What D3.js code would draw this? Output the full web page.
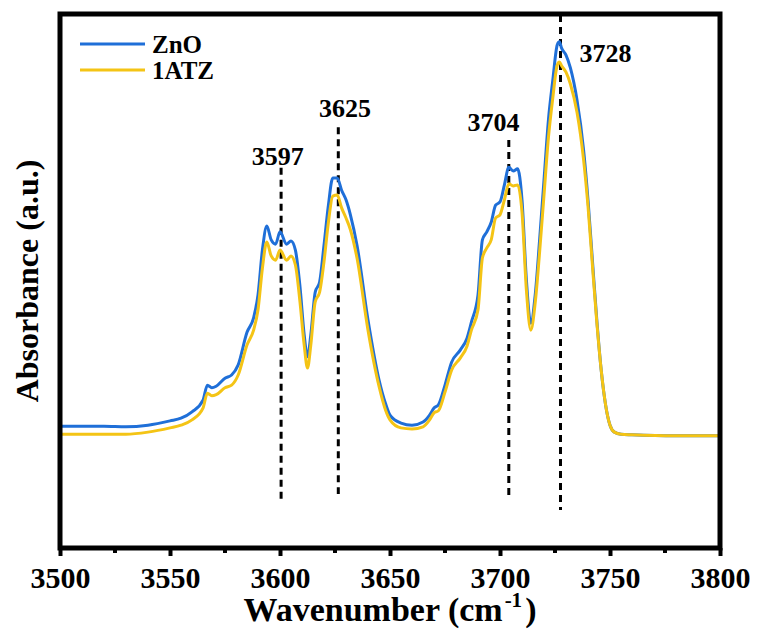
<!DOCTYPE html>
<html>
<head>
<meta charset="utf-8">
<script src="https://cdn.jsdelivr.net/npm/d3@7/dist/d3.min.js"></script>
<style>
  body { margin: 0; background: #fff; }
  svg text { font-family: "Liberation Serif", "Times New Roman", serif; font-weight: bold; fill: #000; }
</style>
</head>
<body>
<svg id="chart" width="758" height="630"></svg>
<script>
// *** Data (absorbance in arbitrary units) ***
var wavenumbers = [3500, 3510, 3520, 3530, 3540, 3550, 3555, 3560, 3565, 3567, 3569, 3571, 3575, 3578, 3581,
    3585, 3588, 3590, 3592, 3594, 3596, 3598, 3600, 3603, 3605, 3607, 3609, 3611, 3612.5, 3614, 3616, 3618,
    3620, 3622, 3624, 3626, 3628, 3630, 3632, 3635, 3640, 3645, 3648, 3650, 3655, 3660, 3665, 3668, 3670,
    3672, 3675, 3678, 3682, 3685, 3687, 3690, 3692, 3694, 3696, 3698, 3700, 3702, 3704, 3706, 3708, 3710,
    3712, 3714, 3716, 3718, 3720, 3722, 3724, 3726, 3727, 3728, 3730, 3732, 3735, 3738, 3740, 3742, 3744,
    3746, 3748, 3750, 3752, 3755, 3760, 3780, 3800];

var znoValues = [0.228, 0.228, 0.228, 0.227, 0.230, 0.238, 0.243, 0.255, 0.277, 0.305, 0.300, 0.303, 0.318, 0.324, 0.343,
    0.404, 0.431, 0.474, 0.558, 0.603, 0.577, 0.569, 0.592, 0.569, 0.575, 0.558, 0.493, 0.399, 0.358, 0.399, 0.479, 0.498,
    0.567, 0.642, 0.693, 0.693, 0.670, 0.652, 0.624, 0.567, 0.427, 0.315, 0.270, 0.249, 0.234, 0.230, 0.236, 0.249, 0.262,
    0.268, 0.305, 0.348, 0.371, 0.393, 0.423, 0.474, 0.577, 0.592, 0.610, 0.642, 0.648, 0.680, 0.713, 0.706, 0.710, 0.652,
    0.502, 0.421, 0.474, 0.577, 0.689, 0.801, 0.876, 0.942, 0.948, 0.936, 0.923, 0.899, 0.839, 0.745, 0.652, 0.539, 0.427,
    0.333, 0.268, 0.230, 0.217, 0.213, 0.212, 0.210, 0.210];

var atzValues = [0.213, 0.213, 0.213, 0.213, 0.217, 0.225, 0.230, 0.240, 0.262, 0.290, 0.285, 0.287, 0.300, 0.305, 0.324,
    0.380, 0.408, 0.446, 0.524, 0.573, 0.547, 0.539, 0.558, 0.539, 0.547, 0.530, 0.464, 0.380, 0.337, 0.380, 0.461, 0.479,
    0.536, 0.610, 0.659, 0.661, 0.637, 0.618, 0.596, 0.543, 0.408, 0.303, 0.258, 0.240, 0.225, 0.223, 0.227, 0.240, 0.253,
    0.257, 0.292, 0.333, 0.356, 0.378, 0.408, 0.446, 0.543, 0.562, 0.577, 0.618, 0.624, 0.652, 0.682, 0.678, 0.680, 0.629,
    0.483, 0.408, 0.459, 0.554, 0.661, 0.768, 0.843, 0.904, 0.910, 0.903, 0.891, 0.869, 0.816, 0.727, 0.640, 0.530, 0.423,
    0.333, 0.268, 0.230, 0.217, 0.213, 0.212, 0.210, 0.210];

var seriesNames = ["ZnO", "1ATZ"];
var seriesColors = ["#1f6fd8", "#f4c415"];

// peak markers: where the dashed line sits, its label, and its vertical extent
var peakLines = [3600.5, 3626.5, 3704, 3727.5];
var peakLabels = ["3597", "3625", "3704", "3728"];
var peakLabelPos = [3599, 3629.5, 3697, 3748];
var peakTops = [0.712, 0.788, 0.764, 0.998];
var peakBottoms = [0.086, 0.101, 0.090, 0.071];
var peakLabelY = [0.717, 0.808, 0.781, 0.910];

var xTicks = [3500, 3550, 3600, 3650, 3700, 3750, 3800];
var xMinorTicks = [3525, 3575, 3625, 3675, 3725, 3775];

// *** Chart ***
var svg = d3.select("#chart");
var margin = {top: 14, right: 38, bottom: 82, left: 60},
    width = 758 - margin.left - margin.right,
    height = 630 - margin.top - margin.bottom;

var x = d3.scaleLinear().domain([3500, 3800]).range([0, width]);
var y = d3.scaleLinear().domain([0, 1]).range([height, 0]);

var g = svg.append("g").attr("transform", "translate(" + margin.left + "," + margin.top + ")");

var series = [znoValues, atzValues].map(function(vals, i) {
    return {name: seriesNames[i], color: seriesColors[i], points: wavenumbers.map((w, j) => ({w: w, v: vals[j]}))};
});

var line = d3.line()
    .x(d => x(d.w))
    .y(d => y(d.v))
    .curve(d3.curveMonotoneX);

// dashed peak lines (behind curves)
g.selectAll(".peak")
    .data(peakLines).enter().append("line")
    .attr("class", "peak")
    .attr("x1", d => x(d)).attr("x2", d => x(d))
    .attr("y1", (d, i) => y(peakTops[i]))
    .attr("y2", (d, i) => y(peakBottoms[i]))
    .attr("stroke", "#000")
    .attr("stroke-width", 3)
    .attr("stroke-dasharray", "7,5");

g.selectAll(".peak-label")
    .data(peakLabels).enter().append("text")
    .attr("class", "peak-label")
    .attr("x", (d, i) => x(peakLabelPos[i]))
    .attr("y", (d, i) => y(peakLabelY[i]))
    .attr("text-anchor", "middle")
    .style("font-size", "26px")
    .text(d => d);

g.selectAll(".series")
    .data(series).enter().append("path")
    .attr("class", "series")
    .attr("fill", "none")
    .attr("stroke", d => d.color)
    .attr("stroke-width", 3)
    .attr("stroke-linejoin", "round")
    .attr("d", d => line(d.points));

// x axis ticks (outside, below the frame)
var xAxis = d3.axisBottom(x).tickValues(xTicks).tickFormat(d3.format("d"))
    .tickSize(8).tickPadding(8).tickSizeOuter(0);
var xAxisG = g.append("g")
    .attr("transform", "translate(0," + height + ")")
    .call(xAxis);
xAxisG.select(".domain").remove();
xAxisG.selectAll(".tick line").attr("stroke", "#000").attr("stroke-width", 4);
xAxisG.selectAll(".tick text")
    .style("font-size", "30px")
    .style("font-family", "'Liberation Serif', serif")
    .style("font-weight", "bold")
    .attr("dy", "0.8em");

g.selectAll(".minor")
    .data(xMinorTicks).enter().append("line")
    .attr("class", "minor")
    .attr("x1", d => x(d)).attr("x2", d => x(d))
    .attr("y1", height).attr("y2", height + 5)
    .attr("stroke", "#000").attr("stroke-width", 4);

// frame
g.append("rect")
    .attr("x", 0).attr("y", 0)
    .attr("width", width).attr("height", height)
    .attr("fill", "none")
    .attr("stroke", "#000")
    .attr("stroke-width", 5);

// legend
var legend = g.selectAll(".legend")
    .data(series).enter().append("g")
    .attr("class", "legend")
    .attr("transform", (d, i) => "translate(20," + (30 + i * 26) + ")");

legend.append("line")
    .attr("x1", 0).attr("x2", 65)
    .attr("stroke", d => d.color)
    .attr("stroke-width", 3);

legend.append("text")
    .attr("x", 72)
    .attr("y", 9)
    .style("font-size", "25px")
    .text(d => d.name);

// axis titles
var xTitle = svg.append("text")
    .attr("x", margin.left + width / 2)
    .attr("y", 621)
    .attr("text-anchor", "middle")
    .style("font-size", "34px");
xTitle.append("tspan").text("Wavenumber (cm");
xTitle.append("tspan").attr("dx", 2).attr("dy", -14).style("font-size", "21px").text("-1");
xTitle.append("tspan").attr("dx", 3).attr("dy", 14).text(")");

svg.append("text")
    .attr("transform", "translate(38," + (margin.top + height / 2) + ") rotate(-90)")
    .attr("text-anchor", "middle")
    .style("font-size", "32px")
    .text("Absorbance (a.u.)");
</script>
</body>
</html>
